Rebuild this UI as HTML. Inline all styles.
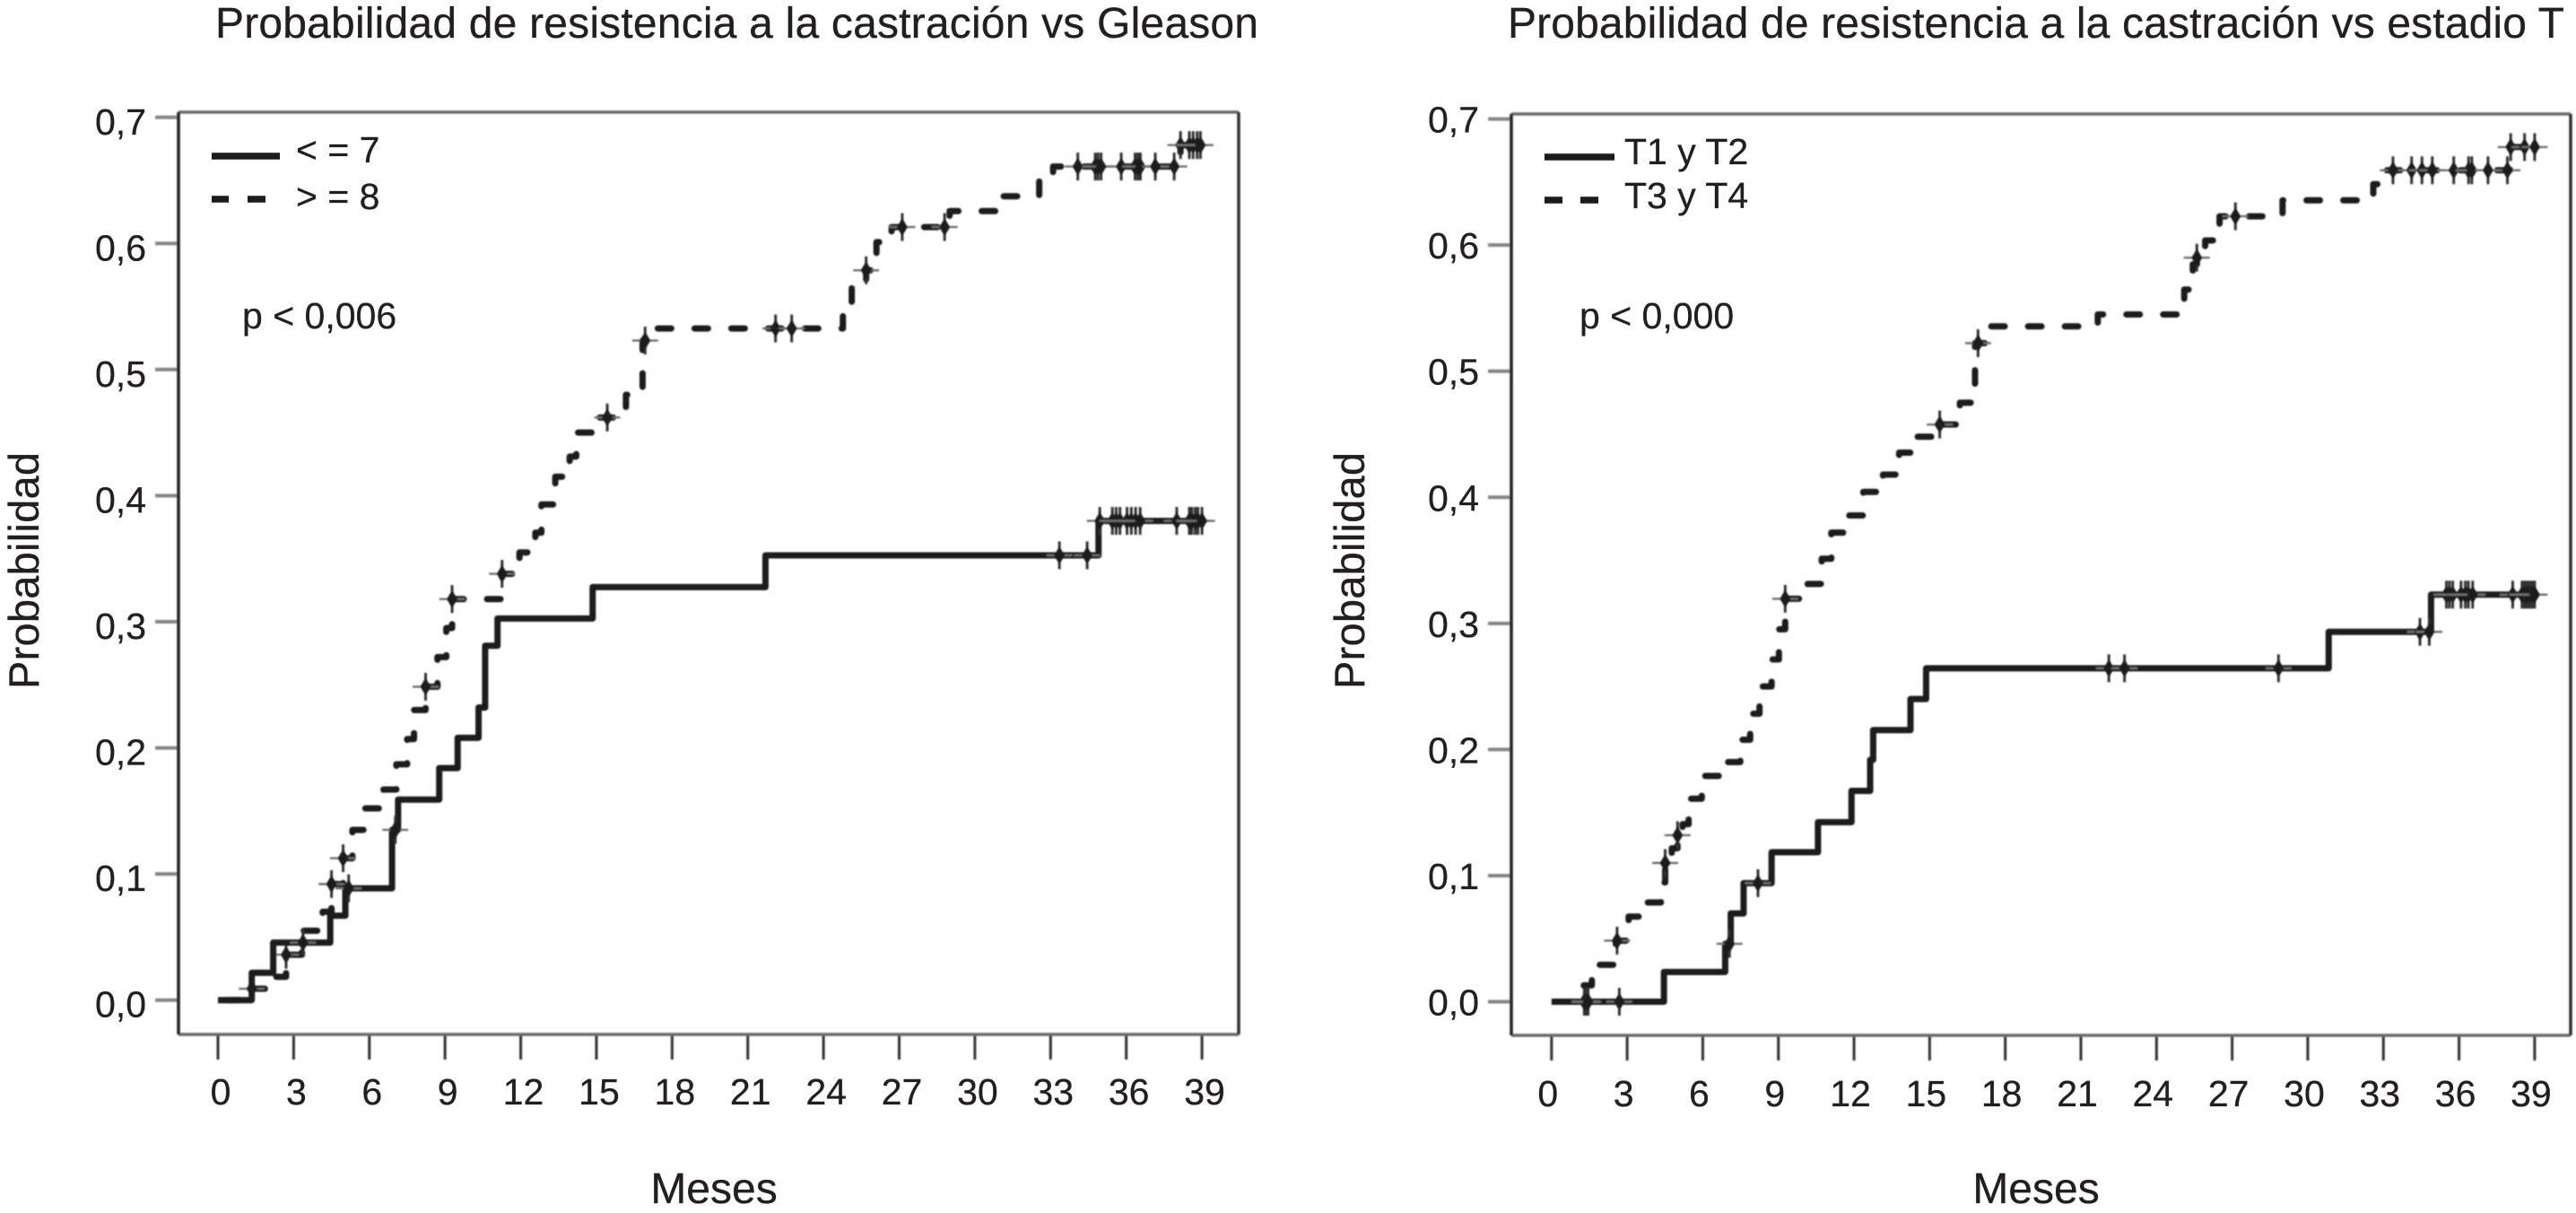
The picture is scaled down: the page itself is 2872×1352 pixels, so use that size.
<!DOCTYPE html>
<html lang="es">
<head>
<meta charset="utf-8">
<title>Probabilidad de resistencia a la castración</title>
<style>
html,body{margin:0;padding:0;background:#fff;}
body{width:2872px;height:1352px;overflow:hidden;}
svg{display:block;}
text{font-family:"Liberation Sans",Arial,sans-serif;fill:#231f20;stroke:#231f20;stroke-width:0.3;}
</style>
</head>
<body>
<svg id="figure" xmlns="http://www.w3.org/2000/svg" width="2872" height="1352" viewBox="0 0 2872 1352">
  <defs><filter id="soft" x="-5%" y="-5%" width="110%" height="110%"><feGaussianBlur stdDeviation="0.7"/></filter></defs>
  <rect width="2872" height="1352" fill="#fff"/>

  <g id="panel-left">
    <text x="240" y="42" font-size="48" textLength="1163" lengthAdjust="spacing">Probabilidad de resistencia a la castración vs Gleason</text>
    <text transform="translate(43,768) rotate(-90)" font-size="47" textLength="264" lengthAdjust="spacing">Probabilidad</text>
    <text x="796" y="1341" font-size="48" text-anchor="middle">Meses</text>
    <g>
      <line x1="236" y1="174" x2="312" y2="174" stroke="#1d1b1c" stroke-width="7.5"/>
      <text x="330" y="181" font-size="41">&lt; = 7</text>
      <line x1="236" y1="222" x2="255" y2="222" stroke="#1d1b1c" stroke-width="7.5"/>
      <line x1="276" y1="222" x2="296" y2="222" stroke="#1d1b1c" stroke-width="7.5"/>
      <text x="330" y="233" font-size="41">&gt; = 8</text>
    </g>
    <text x="270" y="366" font-size="41">p &lt; 0,006</text>
  </g>

  <g id="panel-right">
    <text x="1681" y="42" font-size="48" textLength="1178" lengthAdjust="spacing">Probabilidad de resistencia a la castración vs estadio T</text>
    <text transform="translate(1521,768) rotate(-90)" font-size="47" textLength="264" lengthAdjust="spacing">Probabilidad</text>
    <text x="2270" y="1341" font-size="48" text-anchor="middle">Meses</text>
    <g>
      <line x1="1722" y1="175" x2="1800" y2="175" stroke="#1d1b1c" stroke-width="7.5"/>
      <text x="1811" y="183" font-size="41">T1 y T2</text>
      <line x1="1722" y1="223" x2="1742" y2="223" stroke="#1d1b1c" stroke-width="7.5"/>
      <line x1="1762" y1="223" x2="1782" y2="223" stroke="#1d1b1c" stroke-width="7.5"/>
      <text x="1811" y="232" font-size="41">T3 y T4</text>
    </g>
    <text x="1761" y="366" font-size="41">p &lt; 0,000</text>
  </g>
</svg>

<script>
const xTickValues = [0,3,6,9,12,15,18,21,24,27,30,33,36,39];
const yTickValues = [0,0.1,0.2,0.3,0.4,0.5,0.6,0.7];
const yTickLabels = ['0,0','0,1','0,2','0,3','0,4','0,5','0,6','0,7'];

const gleasonLowMonths = [0,1.34,2.19,4.45,5.05,6.9,7.14,8.77,9.5,10.33,10.59,11.08,14.85,21.7,34.9];
const gleasonLowProbs = [0,0.0217,0.0456,0.0669,0.0886,0.135,0.159,0.184,0.208,0.232,0.281,0.3026,0.3275,0.3527,0.38];
const gleasonLowCensored = [3.37,5.18,7.03,33.35,34.45,34.95,35.45,35.6,35.75,36.03,36.2,36.37,36.55,38,38.5,38.6,38.73,38.84,39];

const gleasonHighMonths = [0,1.34,2.15,2.7,3.33,4.15,4.5,4.96,5.33,5.78,6.56,7.07,7.5,7.77,8.23,8.7,9.05,9.28,11.26,11.95,12.58,12.82,13.37,13.94,14.2,15,16.17,16.83,17.2,24.77,25.12,25.69,26.1,26.7,29,30.9,32.55,33.1,38.15];
const gleasonHighProbs = [0,0.009,0.0185,0.036,0.055,0.07,0.092,0.1125,0.135,0.152,0.167,0.187,0.207,0.23,0.2485,0.272,0.295,0.318,0.338,0.355,0.3706,0.393,0.415,0.431,0.45,0.462,0.48,0.523,0.5326,0.5468,0.5655,0.5787,0.601,0.613,0.6257,0.6374,0.6505,0.661,0.678];
const gleasonHighCensored = [1.34,2.7,4.5,4.96,8.23,9.28,11.26,15.43,16.93,22.1,22.74,25.69,27.12,28.8,34.08,34.77,34.88,35,35.8,36.35,36.46,36.56,37.15,37.9,38.15,38.5,38.65,38.81,38.94];

const stageLowMonths = [0,4.46,6.89,7.11,7.62,8.73,10.57,11.9,12.64,12.76,14.24,14.86,30.83,34.89];
const stageLowProbs = [0,0.0236,0.0459,0.07,0.094,0.1185,0.1424,0.1672,0.1918,0.2154,0.24,0.2644,0.2933,0.3228];
const stageLowCensored = [1.3,1.35,1.4,1.45,2.69,7.06,8.19,22.11,22.73,28.84,34.45,34.82,35.5,35.62,35.75,36.08,36.25,36.37,36.54,38.13,38.5,38.6,38.7,38.8,38.9,39];

const stageHighMonths = [0,1.28,1.6,2.55,3.06,3.66,4.34,4.51,4.77,5,5.2,5.44,5.96,6.93,7.49,7.88,8.25,8.73,9.02,9.27,10.16,10.72,11.1,11.79,12.37,13.15,13.79,14.3,15.1,16.2,16.8,17.2,21.67,25.1,25.44,25.6,25.93,26.5,29,32.6,32.97,38.02];
const stageHighProbs = [0,0.013,0.0293,0.0484,0.0675,0.0787,0.0946,0.11,0.1217,0.132,0.1408,0.161,0.179,0.19,0.2077,0.2284,0.25,0.2714,0.2953,0.3195,0.3313,0.3513,0.372,0.3856,0.4043,0.418,0.4354,0.448,0.4577,0.475,0.5222,0.5355,0.545,0.5647,0.5847,0.59,0.6037,0.6228,0.6355,0.6483,0.6593,0.6777];
const stageHighCensored = [2.6,4.51,5,9.27,15.4,16.92,25.6,27.13,33.38,34.12,34.53,34.94,35.79,36.38,36.51,37.15,37.92,38.05,38.6,39];

const svgNS = 'http://www.w3.org/2000/svg';
const INK = '#1d1b1c';

function make(tag, parent, props) {
  const el = document.createElementNS(svgNS, tag);
  for (const key in props) el.setAttribute(key, props[key]);
  parent.appendChild(el);
  return el;
}

function stepValue(months, probs, month) {
  let value = probs[0];
  for (let i = 0; i < months.length; i++) {
    if (months[i] <= month + 1e-9) value = probs[i];
  }
  return value;
}

function drawSeries(layer, prefix, series, xScale, yScale, dashOffset) {
  const months = series.months;
  const probs = series.probs;
  const censored = series.censored;
  const endMonth = Math.max(months[months.length - 1], censored[censored.length - 1]);
  let d = 'M' + xScale(months[0]) + ' ' + yScale(probs[0]);
  for (let i = 1; i < months.length; i++) {
    d += ' H' + xScale(months[i]) + ' V' + yScale(probs[i]);
  }
  d += ' H' + xScale(endMonth);
  const style = {d: d, fill: 'none', stroke: INK, 'stroke-width': 7, 'stroke-linejoin': 'round'};
  if (dashOffset !== null) {
    style['stroke-dasharray'] = '15 26';
    style['stroke-dashoffset'] = dashOffset;
    style['stroke-linecap'] = 'round';
  }
  const line = make('path', layer, style);
  
  

  censored.forEach(function (month) {
    const cx = xScale(month);
    const cy = yScale(stepValue(months, probs, month));
    const h = make('line', layer, {x1: cx - 14.5, x2: cx + 14.5, y1: cy, y2: cy, stroke: '#707070', 'stroke-width': 2.4});
    
    
    const v = make('line', layer, {x1: cx, x2: cx, y1: cy - 15.5, y2: cy + 15.5, stroke: '#333', 'stroke-width': 3});
    
    
    const core = make('path', layer, {d: 'M' + (cx - 6) + ' ' + cy + ' L' + cx + ' ' + (cy - 10) + ' L' + (cx + 6) + ' ' + cy + ' L' + cx + ' ' + (cy + 10) + ' Z', fill: INK});
    
    
  });
}

function drawPanel(panelId, prefix, box, scales, labels, low, high, dashOffset) {
  const root = document.getElementById(panelId);
  const xScale = function (m) { return scales.x0 + m * scales.xPerMonth; };
  const yScale = function (p) { return scales.y0 - p * scales.yPerUnit; };

  const axes = make('g', root, {filter: 'url(#soft)'});
  
  

  yTickValues.forEach(function (value, i) {
    const y = yScale(value);
    const tick = make('line', axes, {x1: box.left - 26, x2: box.left, y1: y, y2: y, stroke: '#858585', 'stroke-width': 4});
    
    
    const label = make('text', root, {x: labels.yRight, y: y + labels.yBaseline, 'font-size': 41, 'text-anchor': 'end'});
    
    
    label.textContent = yTickLabels[i];
  });

  xTickValues.forEach(function (value) {
    const x = xScale(value);
    const tick = make('line', axes, {x1: x, x2: x, y1: box.bottom, y2: box.bottom + 28, stroke: '#333', 'stroke-width': 3});
    
    
    const label = make('text', root, {x: x + labels.xShift, y: labels.xBaseline, 'font-size': 41, 'text-anchor': 'middle'});
    
    
    label.textContent = String(value);
  });

  const frameTop = make('line', axes, {x1: box.left, x2: box.right, y1: box.top, y2: box.top, stroke: '#696b6d', 'stroke-width': 3.5});
  
  
  const frameBottom = make('line', axes, {x1: box.left, x2: box.right, y1: box.bottom, y2: box.bottom, stroke: '#696b6d', 'stroke-width': 3.5});
  
  
  const frameLeft = make('line', axes, {x1: box.left, x2: box.left, y1: box.top, y2: box.bottom, stroke: '#222', 'stroke-width': 3.5});
  
  
  const frameRight = make('line', axes, {x1: box.right, x2: box.right, y1: box.top, y2: box.bottom, stroke: '#333', 'stroke-width': 3.5});
  
  

  const plot = make('g', root, {filter: 'url(#soft)'});
  
  

  drawSeries(plot, prefix + '-high', high, xScale, yScale, dashOffset);
  drawSeries(plot, prefix + '-low', low, xScale, yScale, null);
}

drawPanel('panel-left', 'gleason',
  {left: 199, right: 1381, top: 125, bottom: 1153},
  {x0: 243, xPerMonth: 28.13, y0: 1114.7, yPerUnit: 1405.6},
  {yRight: 163, yBaseline: 19, xShift: 3, xBaseline: 1231},
  {months: gleasonLowMonths, probs: gleasonLowProbs, censored: gleasonLowCensored},
  {months: gleasonHighMonths, probs: gleasonHighProbs, censored: gleasonHighCensored},
  32);

drawPanel('panel-right', 'stage',
  {left: 1685, right: 2866, top: 127, bottom: 1154},
  {x0: 1729.8, xPerMonth: 28.105, y0: 1116.5, yPerUnit: 1405.6},
  {yRight: 1649, yBaseline: 15, xShift: -4, xBaseline: 1233},
  {months: stageLowMonths, probs: stageLowProbs, censored: stageLowCensored},
  {months: stageHighMonths, probs: stageHighProbs, censored: stageHighCensored},
  28);
</script>
</body>
</html>
